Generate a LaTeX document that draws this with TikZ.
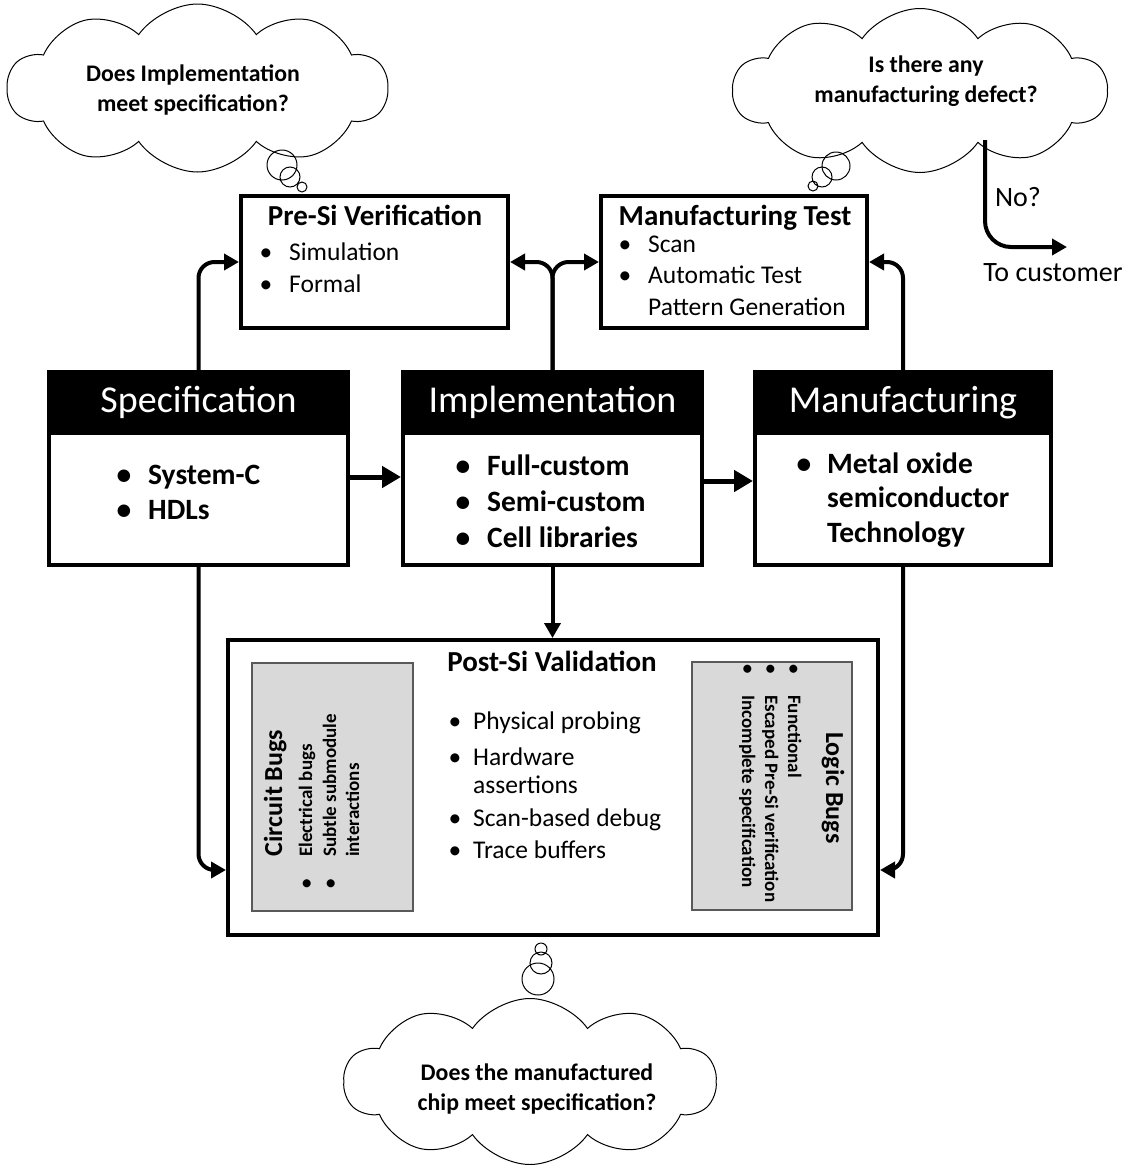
\documentclass[tikz,border=0pt]{standalone}
\usepackage{fontspec}
\setmainfont{Carlito}
\usetikzlibrary{arrows.meta,shapes.symbols,calc}

% one bulleted line: name, style, bullet x, text x, baseline, text
\newcommand{\bulline}[6]{%
  \node[#2, anchor=base] (#1-b) at (#3,#5) {\textbullet};
  \node[#2, anchor=base west] (#1) at (#4,#5) {#6};}

\begin{document}
\begin{tikzpicture}[x=1pt,y=-1pt,
  box/.style={draw, line width=4pt, inner sep=0pt, fill=white},
  hdr/.style={draw, fill=black, line width=4pt, inner sep=0pt, text=white,
              font=\fontsize{38}{44}\selectfont},
  greybox/.style={draw=black!65, fill=black!15, line width=1.2pt, inner sep=0pt},
  bodyitem/.style={inner sep=0pt, font=\bfseries\fontsize{29.5}{35}\selectfont},
  boxtitle/.style={inner sep=0pt, font=\bfseries\fontsize{29}{35}\selectfont},
  item/.style={inner sep=0pt, font=\fontsize{25.5}{31}\selectfont},
  gtitle/.style={inner sep=0pt, font=\bfseries\fontsize{26}{31}\selectfont},
  gitem/.style={inner sep=0pt, font=\bfseries\fontsize{19}{23}\selectfont},
  thought/.style={cloud, draw, line width=1pt, cloud puffs=10, cloud puff arc=110,
                  cloud ignores aspect, inner sep=0pt},
  cloudtext/.style={inner sep=0pt, align=center, font=\bfseries\fontsize{23.8}{29.5}\selectfont},
  plain/.style={inner sep=0pt, font=\fontsize{28}{34}\selectfont},
  arr/.style={line width=4pt, rounded corners=16, -{Triangle[length=15pt,width=16pt]}},
  bigarr/.style={line width=5pt, -{Triangle[length=19pt,width=21pt]}},
  bubble/.style={line width=1pt}
]
\useasboundingbox (0,0) rectangle (1142,1165);

% ---------- thought clouds ----------
\node[thought, minimum width=380, minimum height=168] (cloudTL) at (197.5,88) {};
\node[cloudtext] (cloudTL-t) at (193,90) {Does Implementation\\meet specification?};
\node[thought, minimum width=374, minimum height=164] (cloudTR) at (920,90.5) {};
\node[cloudtext] (cloudTR-t) at (926,81) {Is there any\\manufacturing defect?};
\node[thought, minimum width=372, minimum height=166] (cloudB) at (530,1081.5) {};
\node[cloudtext] (cloudB-t) at (537,1089) {Does the manufactured\\chip meet specification?};

\draw[bubble] (282,165) circle (15) (290,177) circle (10) (302,187) circle (5);
\draw[bubble] (836,166) circle (14) (822,177) circle (10) (813,186) circle (5);
\draw[bubble] (541,949) circle (6) (541,963) circle (11) (538,979) circle (16);

% ---------- checking boxes ----------
\node[box, minimum width=267, minimum height=132] (presi) at (374.5,262) {};
\node[boxtitle, anchor=base] (presi-t) at (375,225) {Pre-Si Verification};
\bulline{sim}{item}{266}{289}{260}{Simulation}
\bulline{formal}{item}{266}{289}{292}{Formal}

\node[box, minimum width=266, minimum height=132] (mtest) at (734,262) {};
\node[boxtitle, anchor=base] (mtest-t) at (735,225) {Manufacturing Test};
\bulline{scan}{item}{625}{648}{252}{Scan}
\bulline{atpg}{item}{625}{648}{283}{Automatic Test}
\node[item, anchor=base west] (atpg2) at (648,315) {Pattern Generation};

% ---------- main flow ----------
\node[box, minimum width=299, minimum height=193] (spec) at (198.5,468.5) {};
\node[hdr, minimum width=299, minimum height=61] (spec-h) at (198.5,402.5) {Specification};
\bulline{sysc}{bodyitem}{124}{148}{484}{System-C}
\bulline{hdl}{bodyitem}{124}{148}{519}{HDLs}

\node[box, minimum width=299, minimum height=193] (impl) at (552.5,468.5) {};
\node[hdr, minimum width=299, minimum height=61] (impl-h) at (552.5,402.5) {Implementation};
\bulline{full}{bodyitem}{463}{487}{475}{Full-custom}
\bulline{semi}{bodyitem}{463}{487}{511}{Semi-custom}
\bulline{cell}{bodyitem}{463}{487}{547}{Cell libraries}

\node[box, minimum width=296, minimum height=193] (manu) at (903,468.5) {};
\node[hdr, minimum width=296, minimum height=61] (manu-h) at (903,402.5) {Manufacturing};
\bulline{mos}{bodyitem}{804}{827}{473}{Metal oxide}
\node[bodyitem, anchor=base west] (mos2) at (827,507) {semiconductor};
\node[bodyitem, anchor=base west] (mos3) at (827,542) {Technology};

% ---------- post-silicon validation ----------
\node[box, minimum width=650, minimum height=295] (postsi) at (553,787.5) {};
\node[boxtitle, anchor=base] (postsi-t) at (552,671) {Post-Si Validation};
\bulline{probe}{item}{455}{473}{729}{Physical probing}
\bulline{hwa}{item}{455}{473}{765}{Hardware}
\node[item, anchor=base west] (hwa2) at (473,793) {assertions};
\bulline{sbd}{item}{455}{473}{826}{Scan-based debug}
\bulline{trace}{item}{455}{473}{858}{Trace buffers}

\node[greybox, minimum width=161, minimum height=248] (circ) at (332.5,787) {};
\node[gtitle, rotate=90, anchor=base] (circ-t) at (282,793) {Circuit Bugs};
\node[gitem, rotate=90, anchor=base] (elec-b) at (312,884) {\textbullet};
\node[gitem, rotate=90, anchor=base west] (elec) at (312,857) {Electrical bugs};
\node[gitem, rotate=90, anchor=base] (subm-b) at (336,884) {\textbullet};
\node[gitem, rotate=90, anchor=base west] (subm) at (336,857) {Subtle submodule};
\node[gitem, rotate=90, anchor=base west] (subm2) at (359,857) {interactions};

\node[greybox, minimum width=160, minimum height=248] (logic) at (772,786) {};
\node[gtitle, rotate=-90, anchor=base] (logic-t) at (826,788) {Logic Bugs};
\node[gitem, rotate=-90, anchor=base] (func-b) at (788,669) {\textbullet};
\node[gitem, rotate=-90, anchor=base west] (func) at (788,695) {Functional};
\node[gitem, rotate=-90, anchor=base] (esc-b) at (765,669) {\textbullet};
\node[gitem, rotate=-90, anchor=base west] (esc) at (765,695) {Escaped Pre-Si verification};
\node[gitem, rotate=-90, anchor=base] (inc-b) at (742,669) {\textbullet};
\node[gitem, rotate=-90, anchor=base west] (inc) at (742,695) {Incomplete specification};

% ---------- connectors ----------
\draw[bigarr] ($(spec.east)+(0,8.5)$) -- ($(impl.west)+(0,8.5)$);
\draw[bigarr] ($(impl.east)+(0,12.5)$) -- ($(manu.west)+(0,12.5)$);

\draw[arr] (spec.north) |- (presi.west);
\draw[arr] (impl.north) |- (presi.east);
\draw[arr] (impl.north) |- (mtest.west);
\draw[arr] (manu.north) |- (mtest.east);

\draw[arr] (spec.south) |- ($(postsi.west)+(0,82.5)$);
\draw[arr] (impl.south) -- (impl.south |- postsi.north);
\draw[arr] (manu.south) |- ($(postsi.east)+(0,82.5)$);

% ---------- shipping branch ----------
\coordinate (shipstart) at (985,140);
\coordinate (shipend) at (1067,247);
\draw[arr, rounded corners=26] (shipstart) |- (shipend);
\node[plain, anchor=base] (noq) at (1018,206) {No?};
\node[plain, anchor=base] (tocust) at (1053,281) {To customer};
\end{tikzpicture}
\end{document}
